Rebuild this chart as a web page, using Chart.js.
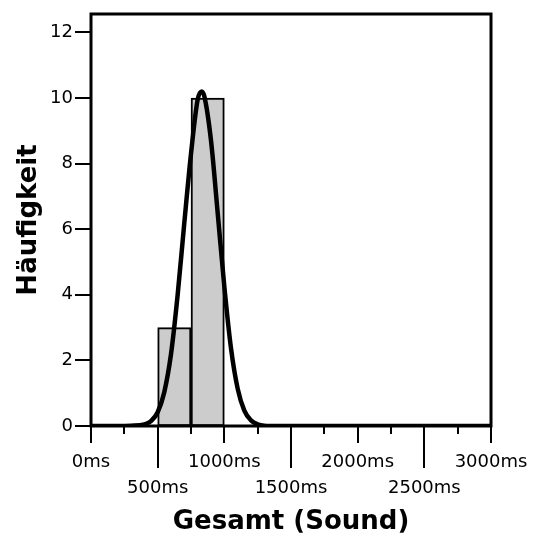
<!DOCTYPE html>
<html>
<head>
<meta charset="utf-8">
<script src="https://cdn.jsdelivr.net/npm/chart.js@4"></script>
<style>
  html, body { margin: 0; padding: 0; background: #fff; }
  #wrap { width: 533px; height: 540px; }
</style>
</head>
<body>
<div id="wrap"><canvas id="hist"></canvas></div>
<script>
// histogramm: klassen (mitte), haeufigkeiten
const binCenters = [625, 875];
const binCounts = [3, 10];

// angepasste normalverteilung
const curveX = [0, 200, 300, 400, 450, 500, 550, 600, 650, 700, 750, 800, 830, 850, 900, 950, 1000, 1050, 1100, 1150, 1200, 1250, 1300, 1400, 3000];
const curveY = [0, 0, 0.01, 0.05, 0.15, 0.42, 1.04, 2.19, 4.0, 6.2, 8.3, 9.95, 10.2, 10.05, 8.7, 6.5, 4.25, 2.37, 1.14, 0.47, 0.17, 0.05, 0.01, 0, 0];

// achsen
const xTicks = [0, 250, 500, 750, 1000, 1250, 1500, 1750, 2000, 2250, 2500, 2750, 3000];
const yTicks = [0, 2, 4, 6, 8, 10, 12];

const FONT = "'DejaVu Sans', Verdana, sans-serif";

// rahmen und tickstriche selbst zeichnen
const axisPlugin = {
  id: "axisMarks",
  afterDraw(chart) {
    const ctx = chart.ctx;
    const a = chart.chartArea;
    const xs = chart.scales.x, ys = chart.scales.y;
    ctx.save();
    ctx.strokeStyle = "#000";
    ctx.lineWidth = 2;
    yTicks.forEach(v => {
      const y = Math.round(ys.getPixelForValue(v));
      ctx.beginPath();
      ctx.moveTo(a.left - 16, y);
      ctx.lineTo(a.left, y);
      ctx.stroke();
    });
    xTicks.forEach(v => {
      const x = Math.round(xs.getPixelForValue(v));
      let len = 8;
      if (v % 1000 === 0) len = 17;
      else if (v % 500 === 0) len = 42;
      ctx.beginPath();
      ctx.moveTo(x, a.bottom);
      ctx.lineTo(x, a.bottom + len);
      ctx.stroke();
    });
    ctx.lineWidth = 3;
    ctx.strokeRect(a.left, a.top, a.right - a.left, a.bottom - a.top);
    ctx.restore();
  }
};

new Chart(document.getElementById("hist"), {
  type: "bar",
  data: {
    datasets: [
      {
        type: "line",
        data: curveX.map((x, i) => ({ x: x, y: curveY[i] })),
        borderColor: "#000",
        borderWidth: 4.5,
        pointRadius: 0,
        cubicInterpolationMode: "monotone",
        fill: false,
        order: 0
      },
      {
        type: "bar",
        data: binCenters.map((x, i) => ({ x: x, y: binCounts[i] })),
        backgroundColor: "#cccccc",
        borderColor: "#000",
        borderWidth: 2,
        borderSkipped: false,
        barPercentage: 1,
        categoryPercentage: 1,
        grouped: false,
        order: 1
      }
    ]
  },
  options: {
    responsive: true,
    maintainAspectRatio: false,
    animation: false,
    layout: { padding: { top: 14, right: 42, left: 0, bottom: 0 } },
    plugins: {
      legend: { display: false },
      tooltip: { enabled: false }
    },
    scales: {
      x: {
        type: "linear",
        offset: false,
        min: 0,
        max: 3000,
        afterBuildTicks: s => { s.ticks = xTicks.map(v => ({ value: v })); },
        afterFit: s => { s.height = 114; s.paddingLeft = 0; s.paddingRight = 0; },
        grid: { display: false, drawTicks: false },
        border: { display: false },
        ticks: {
          autoSkip: false,
          maxRotation: 0,
          padding: 23,
          color: "#000",
          font: { family: FONT, size: 18, lineHeight: 1.45 },
          callback: v => {
            if (v % 1000 === 0) return v + "ms";
            if (v % 500 === 0) return ["", v + "ms"];
            return "";
          }
        },
        title: {
          display: true,
          text: "Gesamt (Sound)",
          color: "#000",
          font: { family: FONT, size: 26, weight: "bold", lineHeight: 1.2 },
          padding: { top: 0, bottom: 2 }
        }
      },
      y: {
        min: 0,
        max: 12.56,
        afterBuildTicks: s => { s.ticks = yTicks.map(v => ({ value: v })); },
        afterFit: s => { s.width = 91; s.paddingTop = 0; s.paddingBottom = 0; },
        grid: { display: false, drawTicks: false },
        border: { display: false },
        ticks: {
          padding: 18,
          color: "#000",
          font: { family: FONT, size: 18 }
        },
        title: {
          display: true,
          text: "Häufigkeit",
          color: "#000",
          font: { family: FONT, size: 26, weight: "bold", lineHeight: 1.2 },
          padding: { top: 14, bottom: 0 }
        }
      }
    }
  },
  plugins: [axisPlugin]
});
</script>
</body>
</html>
